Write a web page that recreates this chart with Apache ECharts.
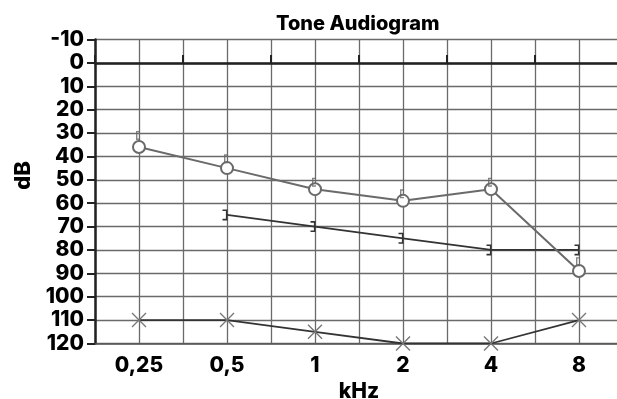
<!DOCTYPE html>
<html>
<head>
<meta charset="utf-8">
<script src="https://cdn.jsdelivr.net/npm/echarts@6/dist/echarts.min.js"></script>
<style>
html, body { margin: 0; padding: 0; background: #fff; }
#chart { width: 617px; height: 399px; }
</style>
</head>
<body>
<div id="chart"></div>
<script>
var freqLabels = ['0,25', '0,5', '1', '2', '4', '8'];
var circleDb = [36, 45, 54, 59, 54, 89];
var circleNote = [31, 41, 51, 56, 51, 85];
var bracketDb = [null, 65, 70, 75, 80, 80];
var crossDb = [110, 110, 115, 120, 120, 110];

// each frequency sits on an odd slot of a 0..12 grid
function toPairs(arr) {
    var out = [];
    for (var i = 0; i < arr.length; i++) {
        out.push([2 * i + 1, arr[i]]);
    }
    return out;
}

var font = 'Inter, Liberation Sans, Arial, sans-serif';
var chart = echarts.init(document.getElementById('chart'));
chart.setOption({
    animation: false,
    title: {
        text: 'Tone Audiogram',
        left: 271,
        top: 9,
        textStyle: { fontFamily: font, fontWeight: 800, fontSize: 20, color: '#000' }
    },
    grid: { left: 95, top: 39.5, width: 528, height: 304, outerBoundsMode: 'none', containLabel: false },
    xAxis: [{
        type: 'value',
        min: 0,
        max: 12,
        interval: 1,
        name: 'kHz',
        nameLocation: 'middle',
        nameGap: 33,
        nameTextStyle: { fontFamily: font, fontWeight: 800, fontSize: 21, color: '#000' },
        axisLine: { onZero: false, lineStyle: { color: '#555', width: 1.5 } },
        axisTick: { show: false },
        axisLabel: {
            margin: 12,
            fontFamily: font, fontWeight: 800, fontSize: 21, color: '#000',
            formatter: function (v) {
                return v % 2 === 1 ? freqLabels[(v - 1) / 2] : '';
            }
        },
        splitLine: { show: true, lineStyle: { color: '#6a6a6a', width: 1.3 } }
    }, {
        type: 'value',
        min: 0,
        max: 12,
        interval: 2,
        position: 'bottom',
        axisLine: { onZero: true, onZeroAxisIndex: 0, lineStyle: { color: '#222', width: 2.5 } },
        axisTick: { show: true, inside: true, length: 8, lineStyle: { color: '#222', width: 2 } },
        axisLabel: { show: false },
        splitLine: { show: false }
    }],
    yAxis: {
        type: 'value',
        inverse: true,
        min: -10,
        max: 120,
        interval: 10,
        name: 'dB',
        nameLocation: 'middle',
        nameGap: 59,
        nameTextStyle: { fontFamily: font, fontWeight: 800, fontSize: 22, color: '#000', padding: [0, 0, 0, 32] },
        axisLine: { show: true, onZero: false, lineStyle: { color: '#222', width: 2.5 } },
        axisTick: { show: true, length: 8, lineStyle: { color: '#222', width: 2 } },
        axisLabel: { margin: 11, fontFamily: font, fontWeight: 800, fontSize: 21, color: '#000' },
        splitLine: { show: true, lineStyle: { color: '#6a6a6a', width: 1.3 } }
    },
    series: [{
        type: 'line',
        data: toPairs(circleDb),
        symbol: 'emptyCircle',
        symbolSize: 12,
        lineStyle: { color: '#6a6a6a', width: 2 },
        itemStyle: { color: '#6a6a6a', borderColor: '#666', borderWidth: 2 },
        z: 4
    }, {
        type: 'scatter',
        data: toPairs(circleNote),
        symbol: 'path://M4,0 L0,0 L0,9 L4,9 L4,7.6 L1.4,7.6 L1.4,1.4 L4,1.4 Z',
        symbolSize: [4, 9],
        symbolOffset: [-1, 0],
        itemStyle: { color: '#666' },
        z: 4
    }, {
        type: 'line',
        data: toPairs(bracketDb),
        symbol: 'path://M0,0 L5,0 L5,11 L0,11 L0,9.4 L3.4,9.4 L3.4,1.6 L0,1.6 Z',
        symbolSize: [5, 11],
        symbolOffset: [-2, 0],
        lineStyle: { color: '#333', width: 1.8 },
        itemStyle: { color: '#333' },
        z: 3
    }, {
        type: 'line',
        data: toPairs(crossDb),
        symbol: 'path://M0,0 L10,10 M10,0 L0,10',
        symbolSize: 14,
        lineStyle: { color: '#333', width: 1.8 },
        itemStyle: { color: 'rgba(0,0,0,0)', borderColor: '#777', borderWidth: 1.4 },
        z: 3
    }]
});
</script>
</body>
</html>
